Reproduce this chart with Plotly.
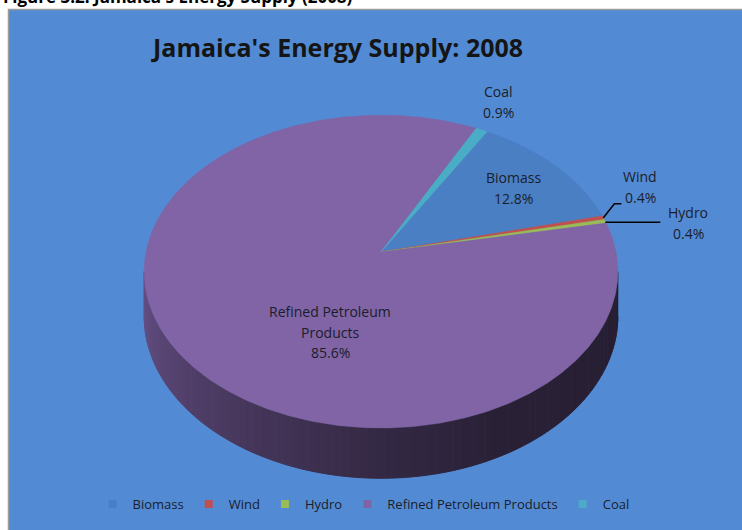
import numpy as np
import plotly.graph_objects as go

# Jamaica's energy supply in 2008, share of total (%)
sources = ["Biomass", "Wind", "Hydro", "Refined Petroleum Products", "Coal"]
shares = [12.8, 0.4, 0.4, 85.6, 0.9]
label_names = ["Biomass", "Wind", "Hydro", "Refined Petroleum<br>Products", "Coal"]
slice_colors = ["#4A7FC4", "#C0504D", "#9BBB59", "#8064A6", "#4BACC6"]

# ---- page / pie geometry (pixel space, y grows downward) ----
W, H = 742, 530
BG_BLUE = "#528BD4"
CX, CY = 381, 252          # centre of the pie top face
RX, RY, PERSP = 235, 154, 0.125
THICK = 44                  # depth of the pie wall
FIRST_ANGLE = 30            # first slice starts 30 deg clockwise from 12 o'clock
TEXT_COLOR = "#1b1d2b"
FONT = "Open Sans"


def project(phi_deg, r=1.0, drop=0.0):
    """Map a point of the tilted disk (angle clockwise from top, radius) to the page."""
    phi = np.radians(phi_deg)
    X, Z = r * np.sin(phi), r * np.cos(phi)
    s = 1.0 / (1.0 + PERSP * Z)
    return CX + RX * X * s, CY - RY * Z * s + drop * s


def hex_rgb(h):
    h = h.lstrip("#")
    return tuple(int(h[i:i + 2], 16) for i in (0, 2, 4))


total = sum(shares)
spans = [v / total * 360 for v in shares]
starts = list(FIRST_ANGLE + np.cumsum([0] + spans[:-1]))
ends = [s + sp for s, sp in zip(starts, spans)]


def slice_at(phi):
    for i, (a0, a1) in enumerate(zip(starts, ends)):
        p = phi
        while p < a0:
            p += 360
        if a0 <= p <= a1:
            return i
    return 3


fig = go.Figure()

# ---- pie wall (front half), shaded from lit left side to dark right side ----
phi_right = np.degrees(np.arccos(-PERSP))
phi_left = 360 - phi_right
edges = np.linspace(phi_right, phi_left, 90)
shade_t = [0.0, 0.35, 0.5, 0.75, 1.0]
shade_f = [0.30, 0.33, 0.41, 0.60, 0.80]
for p0, p1 in zip(edges[:-1], edges[1:]):
    ph = np.linspace(p0, p1, 4)
    tx, ty = project(ph)
    bx, by = project(ph[::-1], drop=THICK)
    t = ((p0 + p1) / 2 - phi_right) / (phi_left - phi_right)
    f = np.interp(t, shade_t, shade_f)
    r, g, b = hex_rgb(slice_colors[slice_at((p0 + p1) / 2)])
    c = f"rgb({int(r * f)},{int(g * f)},{int(b * f)})"
    fig.add_trace(go.Scatter(
        x=np.concatenate([tx, bx]), y=np.concatenate([ty, by]),
        fill="toself", fillcolor=c, mode="lines", line=dict(color=c, width=1),
        hoverinfo="skip", showlegend=False))

# ---- pie top face ----
for name, a0, a1, col in zip(sources, starts, ends, slice_colors):
    ph = np.linspace(a0, a1, max(3, int((a1 - a0) * 2)))
    ax_, ay_ = project(ph)
    fig.add_trace(go.Scatter(
        x=np.concatenate([[CX], ax_, [CX]]), y=np.concatenate([[CY], ay_, [CY]]),
        fill="toself", fillcolor=col, mode="lines", line=dict(color=col, width=0.5),
        name=name, hoverinfo="name", showlegend=False))

# ---- legend entries ----
for name, col in zip(sources, slice_colors):
    fig.add_trace(go.Scatter(
        x=[None], y=[None], mode="markers", name=name,
        marker=dict(symbol="square", size=8, color=col)))

# ---- data labels ----
label_pos = {               # centre of each label block (page pixels)
    "Biomass": (513, 188),
    "Wind": (640, 187),
    "Hydro": (688, 223),
    "Refined Petroleum Products": (330, 332),
    "Coal": (498, 102),
}
LINE_STEP = 20.5
annotations = []
for name, disp, v in zip(sources, label_names, shares):
    lines = disp.split("<br>") + [f"{v}%"]
    x0, yc = label_pos[name]
    y0 = yc - LINE_STEP * (len(lines) - 1) / 2
    for j, ln in enumerate(lines):
        annotations.append(dict(
            x=x0, y=y0 + j * LINE_STEP, xref="x", yref="y", text=ln,
            showarrow=False, font=dict(family=FONT, size=14, color=TEXT_COLOR)))

# leader lines for the two thin slices
i_w, i_h = sources.index("Wind"), sources.index("Hydro")
wx, wy = project((starts[i_w] + ends[i_w]) / 2)
hx, hy = project((starts[i_h] + ends[i_h]) / 2)
fig.add_trace(go.Scatter(x=[wx, wx + 11, wx + 18], y=[wy, wy - 14, wy - 14],
                         mode="lines", line=dict(color="black", width=1.5),
                         hoverinfo="skip", showlegend=False))
fig.add_trace(go.Scatter(x=[hx, hx + 55], y=[hy + 1, hy + 1],
                         mode="lines", line=dict(color="black", width=1.5),
                         hoverinfo="skip", showlegend=False))

# chart title and the figure caption above the chart frame
annotations.append(dict(
    x=337, y=47, xref="x", yref="y", text="<b>Jamaica's Energy Supply: 2008</b>",
    showarrow=False, font=dict(family="Open Sans", size=25, color="#151515")))
annotations.append(dict(
    x=0.5, y=10, xref="x", yref="y", xanchor="left", yanchor="bottom",
    text="<b>Figure 3.2: Jamaica's Energy Supply (2008)</b>",
    showarrow=False, font=dict(family="Open Sans", size=17, color="#000000")))

fig.update_layout(
    width=W, height=H, autosize=False,
    margin=dict(l=0, r=0, t=0, b=0),
    paper_bgcolor="white", plot_bgcolor="rgba(0,0,0,0)",
    xaxis=dict(range=[0, W], visible=False, fixedrange=True),
    yaxis=dict(range=[H, 0], visible=False, fixedrange=True),
    shapes=[dict(type="rect", xref="x", yref="y", x0=8.5, y0=9.5, x1=W + 5, y1=H + 5,
                 fillcolor=BG_BLUE, line=dict(color="#9c9c9c", width=1.5), layer="below")],
    annotations=annotations,
    legend=dict(orientation="h", x=0.49, xanchor="center", y=1 - 504 / H, yanchor="middle",
                bgcolor="rgba(0,0,0,0)", font=dict(family=FONT, size=13, color=TEXT_COLOR),
                itemwidth=30, tracegroupgap=0),
    showlegend=True,
)

fig.write_html("out.html")
